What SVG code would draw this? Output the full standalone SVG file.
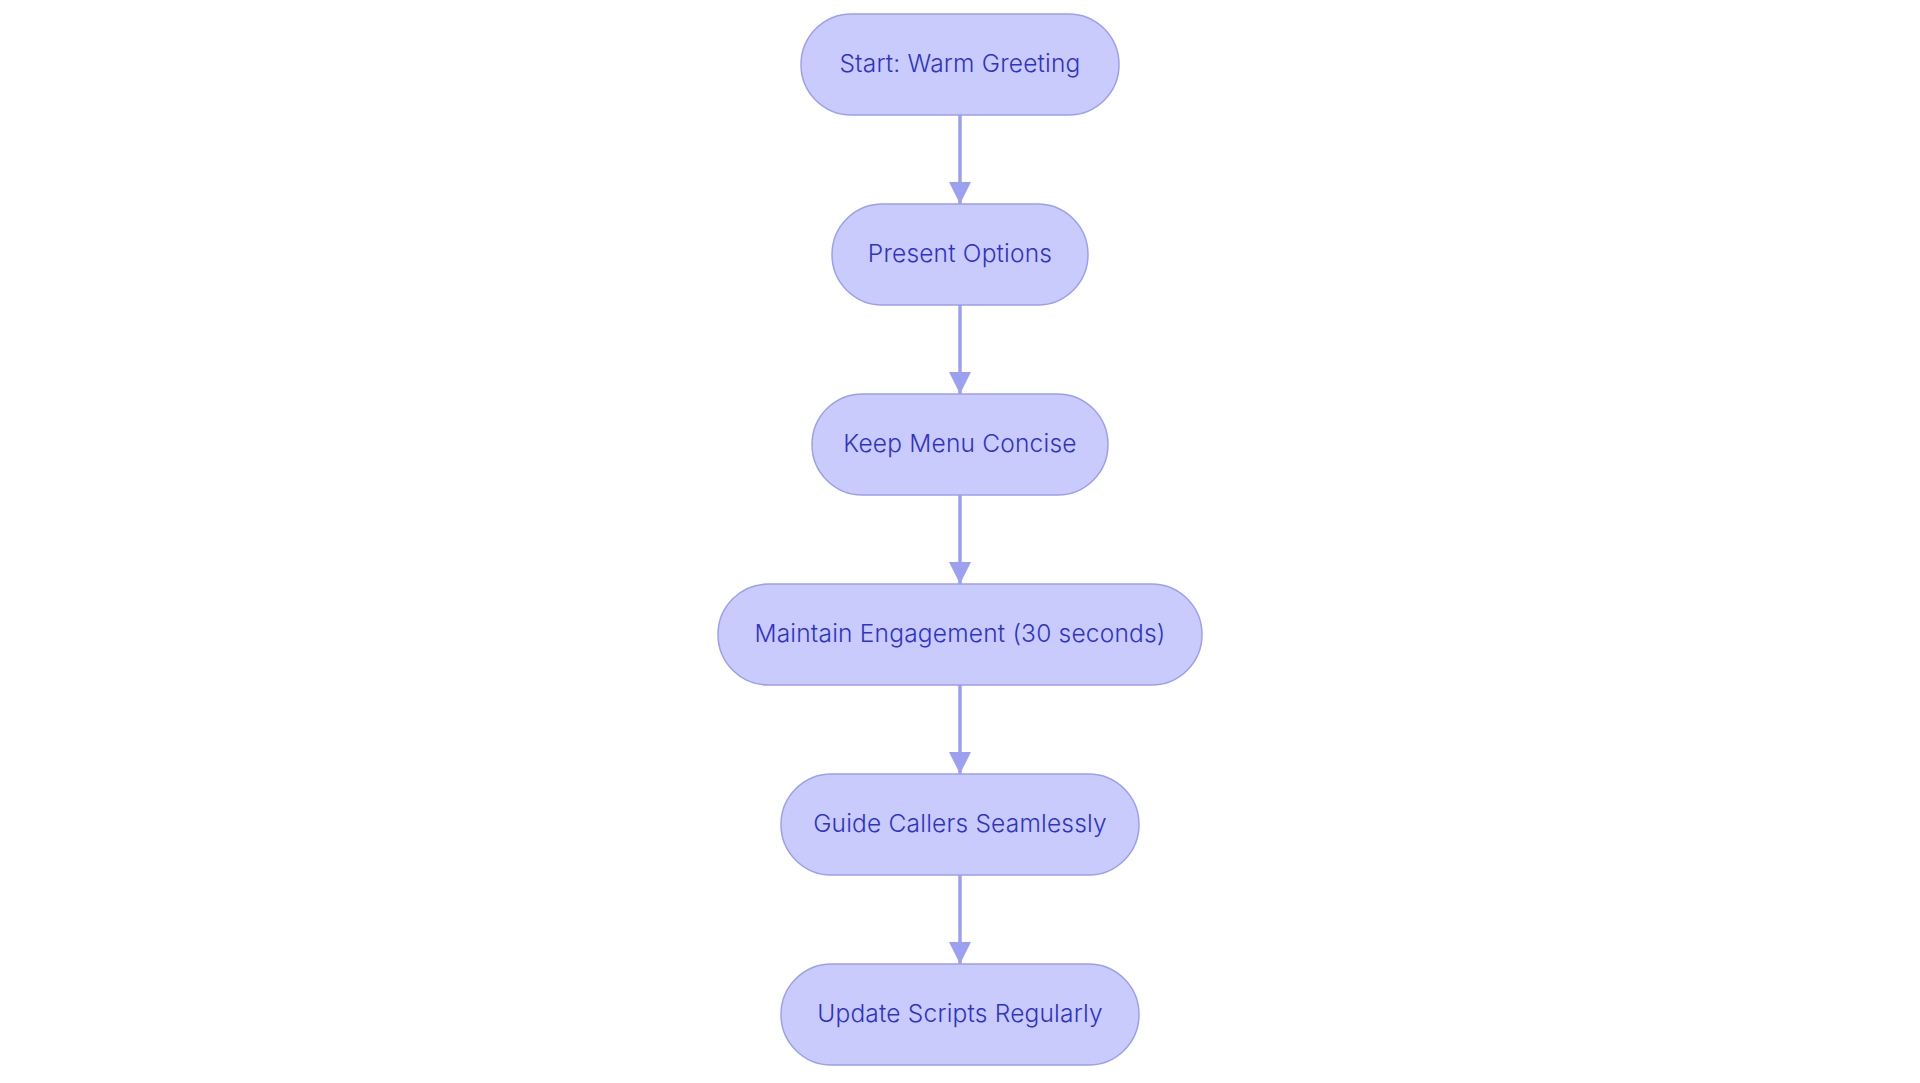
<svg xmlns="http://www.w3.org/2000/svg" width="1920" height="1083" viewBox="0 0 1920 1083">
<style>
.node rect{fill:#C9CBFD;stroke:#9C9FF0;stroke-width:1.5}
.node text{font-family:Inter,"Noto Sans","Liberation Sans",sans-serif;font-size:24.5px;font-weight:350;letter-spacing:0.2px;fill:#2E33C9;text-anchor:middle;dominant-baseline:central}
.edge{stroke:#9CA0F0;stroke-width:3.5;fill:none}
</style>
<defs>
<marker id="arr" markerUnits="userSpaceOnUse" markerWidth="22" markerHeight="22" refX="22" refY="11" orient="auto">
<path d="M0,0 L22,11 L0,22 Z" fill="#9CA0F0"/>
</marker>
</defs>
<rect width="1920" height="1083" fill="#ffffff"/>
<g id="connectors">
<line class="edge" x1="960" y1="115" x2="960" y2="204" marker-end="url(#arr)"/>
<line class="edge" x1="960" y1="305" x2="960" y2="394" marker-end="url(#arr)"/>
<line class="edge" x1="960" y1="495" x2="960" y2="584" marker-end="url(#arr)"/>
<line class="edge" x1="960" y1="685" x2="960" y2="774" marker-end="url(#arr)"/>
<line class="edge" x1="960" y1="875" x2="960" y2="964" marker-end="url(#arr)"/>
</g>
<g id="n1" class="node"><rect x="801" y="14" width="318" height="101" rx="50.5"/><text x="960" y="63">Start: Warm Greeting</text></g>
<g id="n2" class="node"><rect x="832" y="204" width="256" height="101" rx="50.5"/><text x="960" y="253">Present Options</text></g>
<g id="n3" class="node"><rect x="812" y="394" width="296" height="101" rx="50.5"/><text x="960" y="443">Keep Menu Concise</text></g>
<g id="n4" class="node"><rect x="718" y="584" width="484" height="101" rx="50.5"/><text x="960" y="633">Maintain Engagement (30 seconds)</text></g>
<g id="n5" class="node"><rect x="781" y="774" width="358" height="101" rx="50.5"/><text x="960" y="823">Guide Callers Seamlessly</text></g>
<g id="n6" class="node"><rect x="781" y="964" width="358" height="101" rx="50.5"/><text x="960" y="1013">Update Scripts Regularly</text></g>
</svg>
